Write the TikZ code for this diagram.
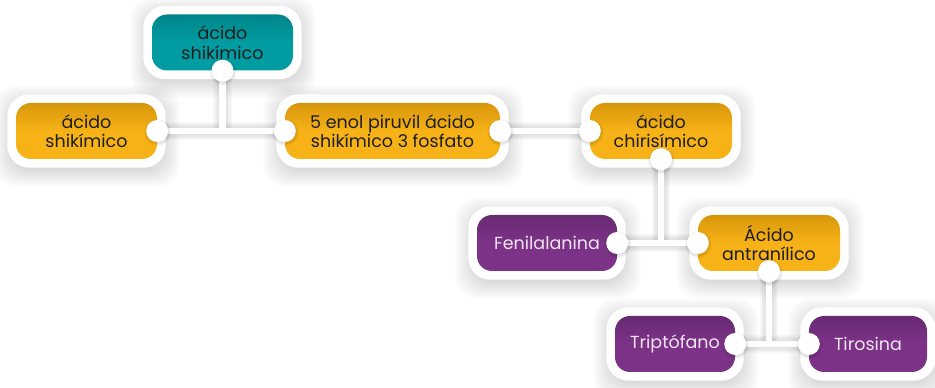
\documentclass[tikz,border=0pt]{standalone}
\usepackage{fontspec}
\setmainfont{Poppins}
\usetikzlibrary{fit}
\definecolor{cyel}{HTML}{F6B216}
\definecolor{cyelD}{HTML}{D8960C}
\definecolor{cteal}{HTML}{009CA1}
\definecolor{ctealD}{HTML}{00858A}
\definecolor{cpur}{HTML}{7C3387}
\definecolor{cpurD}{HTML}{682A72}
\definecolor{ctext}{HTML}{1E1E1E}
\definecolor{cptext}{HTML}{F0E4F1}
\pgfdeclarelayer{shadowlayer}
\pgfdeclarelayer{halolayer}
\pgfsetlayers{shadowlayer,halolayer,main}
\tikzset{
  box/.style={rounded corners=15pt, minimum height=56pt, align=center,
    font=\fontsize{17.5}{19.5}\selectfont, inner sep=0pt},
  yel/.style={box, top color=cyelD, bottom color=cyel, middle color=cyel, text=ctext},
  teal/.style={box, top color=ctealD, bottom color=cteal, middle color=cteal, text=ctext},
  pur/.style={box, top color=cpurD, bottom color=cpur, middle color=cpur, text=cptext},
  halo/.style={fill=white, rounded corners=22pt, inner sep=8.5pt},
  haloshadow/.style={fill=black, fill opacity=0.012, rounded corners=22pt, xshift=1pt, yshift=-5pt},
  link/.style={draw=white, line width=6.5pt},
  linkshadow/.style={draw=black, draw opacity=0.022, yshift=-1pt},
  dot/.style={circle, fill=white, minimum size=22pt, inner sep=0pt},
  dotshadow/.style={circle, fill=black, fill opacity=0.035, inner sep=0pt, xshift=0.5pt, yshift=-1.5pt},
}
\begin{document}
\begin{tikzpicture}[x=1pt,y=1pt]
\useasboundingbox (0,0) rectangle (935,388);
% boxes
\node[teal, minimum width=141pt] (T) at (222.5,345.5) {ácido\\shikímico};
\node[yel, minimum width=141pt] (L) at (86.5,257) {ácido\\shikímico};
\node[yel, minimum width=215pt] (E) at (392.5,257) {5 enol piruvil ácido\\shikímico 3 fosfato};
\node[yel, minimum width=142pt] (C) at (661,257) {ácido\\chirisímico};
\node[pur, minimum width=140pt] (F) at (547,145) {Fenilalanina};
\node[yel, minimum width=142pt] (A) at (769,145) {Ácido\\antranílico};
\node[pur, minimum width=120pt] (Tr) at (675,44) {Triptófano};
\node[pur, minimum width=118pt] (Ti) at (868,44) {Tirosina};
% halos and their shadows
\begin{pgfonlayer}{halolayer}
\foreach \n in {T,L,E,C,F,A,Tr,Ti}{
  \node[halo, fit=(\n)] (\n h) {};
}
\end{pgfonlayer}
\begin{pgfonlayer}{shadowlayer}
\foreach \n in {T,L,E,C,F,A,Tr,Ti}{
  \foreach \k in {0,...,11}{
    \pgfmathsetmacro\s{6+1.5*\k}
    \node[haloshadow, fit=(\n), inner sep=\s pt] {};
  }
}
\end{pgfonlayer}
% connectors
\coordinate (j1) at (T.south |- L.east);
\coordinate (j2) at (C.south |- F.east);
\coordinate (j3) at (A.south |- Tr.east);
\begin{pgfonlayer}{shadowlayer}
\foreach \k in {1,...,5}{
  \pgfmathsetmacro\w{6.5+2.4*\k}
  \draw[linkshadow, line width=\w pt] (L.east) -- (E.west);
  \draw[linkshadow, line width=\w pt] (T.south) -- (j1);
  \draw[linkshadow, line width=\w pt] (E.east) -- (C.west);
  \draw[linkshadow, line width=\w pt] (F.east) -- (A.west);
  \draw[linkshadow, line width=\w pt] (C.south) -- (j2);
  \draw[linkshadow, line width=\w pt] (Tr.east) -- (Ti.west);
  \draw[linkshadow, line width=\w pt] (A.south) -- (j3);
}
\end{pgfonlayer}
\draw[link] (L.east) -- (E.west);
\draw[link] (T.south) -- (j1);
\draw[link] (E.east) -- (C.west);
\draw[link] (F.east) -- (A.west);
\draw[link] (C.south) -- (j2);
\draw[link] (Tr.east) -- (Ti.west);
\draw[link] (A.south) -- (j3);
% dots
\foreach \p/\nm in {T.south/dT, L.east/dL, E.west/dEa, E.east/dEb, C.west/dCa, C.south/dCb,
                    F.east/dF, A.west/dAa, A.south/dAb, Tr.east/dTr, Ti.west/dTi}{
  \foreach \k in {1,...,3}{
    \pgfmathsetmacro\d{22+1.6*\k}
    \node[dotshadow, minimum size=\d pt] at (\p) {};
  }
  \node[dot] (\nm) at (\p) {};
}
\end{tikzpicture}
\end{document}
